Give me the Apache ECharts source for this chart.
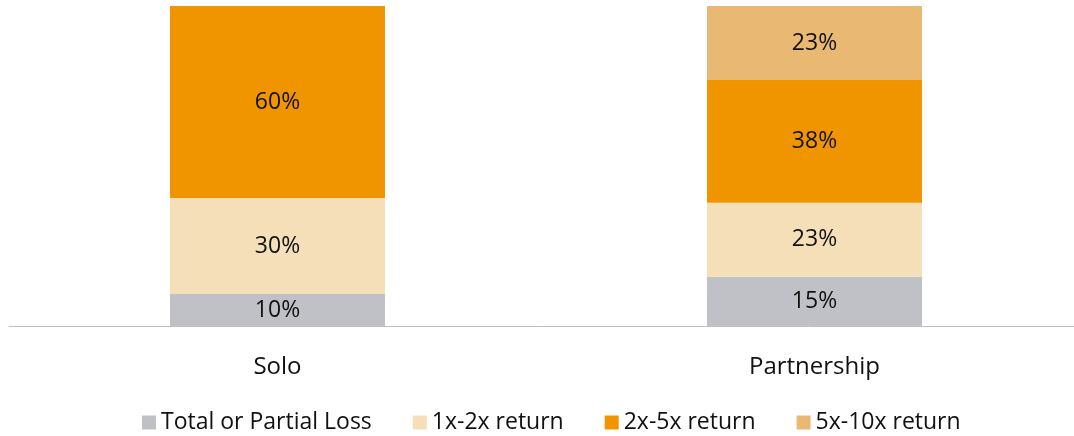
<!DOCTYPE html>
<html>
<head>
<meta charset="utf-8">
<script src="https://cdn.jsdelivr.net/npm/echarts@6/dist/echarts.min.js"></script>
<style>
  html, body { margin: 0; padding: 0; background: #fff; }
  #chart { width: 1074px; height: 436px; }
</style>
</head>
<body>
<div id="chart"></div>
<script>
// categories and shares (percent of deals in each outcome bucket)
const categories = ['Solo', 'Partnership'];
const seriesNames = ['Total or Partial Loss', '1x-2x return', '2x-5x return', '5x-10x return'];
const lossValues = [10, 15.4];
const oneToTwo = [30, 23.1];
const twoToFive = [60, 38.4];
const fiveToTen = [0, 23.1];
const colors = ['#C0C1C6', '#F4DFB8', '#F09500', '#E9B973'];

const font = '"Open Sans", sans-serif';
const chart = echarts.init(document.getElementById('chart'));

const dataSets = [lossValues, oneToTwo, twoToFive, fiveToTen];

const series = dataSets.map((vals, i) => ({
  name: seriesNames[i],
  type: 'bar',
  stack: 'total',
  barWidth: 215,
  data: vals,
  itemStyle: { color: colors[i] },
  label: {
    show: true,
    position: 'inside',
    color: '#111',
    fontFamily: font,
    fontSize: 23,
    padding: [5, 0, 0, 0],
    formatter: (p) => p.value > 0 ? Math.round(p.value) + '%' : ''
  }
}));

chart.setOption({
  animation: false,
  grid: { left: 9, width: 1074, top: 6, bottom: 110, outerBoundsMode: 'none' },
  legend: {
    bottom: -3,
    left: 137,
    itemWidth: 14,
    itemHeight: 14,
    itemGap: 41,
    icon: 'rect',
    textStyle: { fontFamily: font, fontSize: 23, color: '#111' },
    data: seriesNames
  },
  xAxis: {
    type: 'category',
    data: categories,
    axisLine: { lineStyle: { color: '#BFBFBF', width: 1 } },
    axisTick: { show: false },
    axisLabel: { fontFamily: font, fontSize: 24, color: '#111', margin: 29 }
  },
  yAxis: {
    type: 'value',
    min: 0,
    max: 100,
    show: false,
    splitLine: { show: false }
  },
  series: series
});
</script>
</body>
</html>
